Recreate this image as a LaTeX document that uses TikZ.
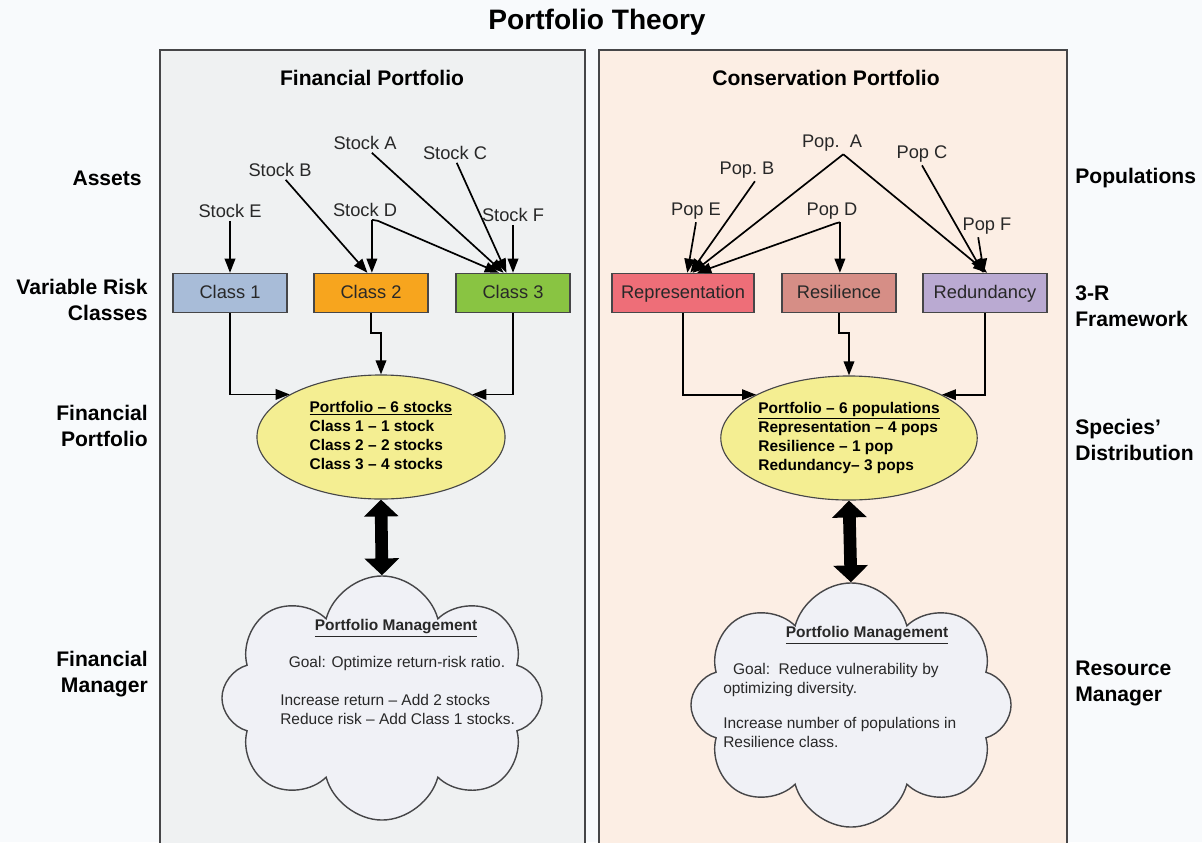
\documentclass[tikz,border=0pt]{standalone}
\usepackage{fontspec}
\setmainfont{Liberation Sans}
\usepackage{xcolor}
\usepackage{tikz}
\usetikzlibrary{arrows.meta}
\usetikzlibrary{shapes,positioning,calc}

\definecolor{pagebg}{RGB}{248,250,252}
\definecolor{finbg}{RGB}{239,241,242}
\definecolor{consbg}{RGB}{252,238,228}
\definecolor{panelline}{RGB}{70,70,72}
\definecolor{classA}{RGB}{168,188,216}
\definecolor{classB}{RGB}{247,165,30}
\definecolor{classC}{RGB}{137,196,66}
\definecolor{repcol}{RGB}{238,110,120}
\definecolor{rescol}{RGB}{214,142,134}
\definecolor{redcol}{RGB}{186,170,210}
\definecolor{pfyellow}{RGB}{244,238,146}
\definecolor{cloudfill}{RGB}{240,241,246}
\definecolor{txtgray}{RGB}{40,40,40}

\begin{document}
\begin{tikzpicture}[x=0.025cm, y=-0.025cm,
		arr/.style={line width=1.2pt, -{Triangle[length=10pt,width=7.5pt]}},
		bigarr/.style={line width=9pt, {Triangle[length=12pt,width=24pt]}-{Triangle[length=12pt,width=24pt]}},
		asset/.style={font=\fontsize{13}{15}\selectfont, text=txtgray, inner sep=2pt},
		riskbox/.style={draw=panelline, line width=1pt, minimum width=2.85cm, minimum height=0.975cm, text height=9.5pt, text depth=1pt, font=\fontsize{13}{15}\selectfont, text=txtgray},
		pfolio/.style={ellipse, draw=panelline, line width=0.8pt, fill=pfyellow, minimum width=6.2cm, minimum height=3.1cm, inner sep=0pt, font=\bfseries\fontsize{11}{13.5}\selectfont},
		mgmt/.style={cloud, cloud puffs=8, aspect=1.3, draw=panelline, line width=1pt, fill=cloudfill, minimum width=8cm, minimum height=6.1cm},
		cloudtxt/.style={font=\fontsize{11}{13.5}\selectfont, text=txtgray, inner sep=0pt},
		cloudhead/.style={font=\bfseries\fontsize{11}{13.5}\selectfont, text=txtgray, inner sep=0pt},
		sidelbl/.style={font=\bfseries\fontsize{15}{18.5}\selectfont, inner sep=0pt},
		head/.style={font=\bfseries\fontsize{15}{18}\selectfont}]
		
		\clip (0,0) rectangle (1202,842);
		\fill[pagebg] (0,0) rectangle (1202,842);
		\draw[panelline, line width=1.3pt, fill=finbg] (160,50) rectangle (585,860);
		\draw[panelline, line width=1.3pt, fill=consbg] (599,50) rectangle (1067,860);
		
		\node[font=\bfseries\fontsize{20}{23}\selectfont] (title) at (597,22) {Portfolio Theory};
		\node[head] (finhead) at (372,78) {Financial Portfolio};
		\node[head] (conshead) at (826,78) {Conservation Portfolio};
		
		\node[sidelbl, anchor=east] (lAssets) at (142,178) {Assets};
		\node[sidelbl, anchor=east, align=right] (lRisk) at (148,300) {Variable Risk\\Classes};
		\node[sidelbl, anchor=east, align=right] (lFin) at (148,426) {Financial\\Portfolio};
		\node[sidelbl, anchor=east, align=right] (lMgr) at (148,674) {Financial\\Manager};
		\node[sidelbl, anchor=west] (rPop) at (1075,178) {Populations};
		\node[sidelbl, anchor=west, align=left] (rFrame) at (1075,306) {3-R\\Framework};
		\node[sidelbl, anchor=west, align=left] (rDist) at (1075,440) {Species'\\Distribution};
		\node[sidelbl, anchor=west, align=left] (rMgr) at (1075,683) {Resource\\Manager};
		
		\node[asset] (sA) at (365,143) {Stock A};
		\node[asset] (sB) at (280,170) {Stock B};
		\node[asset] (sC) at (455,153) {Stock C};
		\node[asset] (sD) at (365,210) {Stock D};
		\node[asset] (sE) at (230,211) {Stock E};
		\node[asset] (sF) at (513,215) {Stock F};
		
		\node[riskbox, fill=classA] (c1) at (230,293) {Class 1};
		\node[riskbox, fill=classB] (c2) at (371,293) {Class 2};
		\node[riskbox, fill=classC] (c3) at (513,293) {Class 3};
		
		\node[asset] (pA) at (832,143) {Pop.\ \ A};
		\node[asset] (pB) at (747,170) {Pop.\ B};
		\node[asset] (pC) at (922,154) {Pop C};
		\node[asset] (pD) at (832,211) {Pop D};
		\node[asset] (pE) at (696,211) {Pop E};
		\node[asset] (pF) at (987,226) {Pop F};
		
		\node[riskbox, fill=repcol, minimum width=3.55cm] (rep) at (683,293) {Representation};
		\node[riskbox, fill=rescol] (res) at (839,293) {Resilience};
		\node[riskbox, fill=redcol, minimum width=3.1cm] (red) at (985,293) {Redundancy};
		
		\draw[arr] (sE.south) -- (c1.north);
		\draw[arr] (sB.-60) -- (c2.100);
		\draw[arr] (sD.-55) -- (sD.-55 |- c2.north);
		\draw[arr] (sD.-55) -- ++(6,1) -- (c3.125);
		\draw[arr] (sA.-55) -- (c3.115);
		\draw[arr] (sC.-80) -- (c3.108);
		\draw[arr] (sF.south) -- (c3.north);
		
		\draw[arr] (pE.south) -- (rep.78);
		\draw[arr] (pB.-55) -- (rep.70);
		\draw[arr] (pA.-45) -- (rep.65);
		\draw[arr] (pA.-45) -- (red.84);
		\draw[arr] (pD.-55) -- (pD.-55 |- res.north);
		\draw[arr] (pD.-55) -- ++(-4,1) -- (rep.55);
		\draw[arr] (pC.south) -- (red.95);
		\draw[arr] (pF.-128) -- (red.93);
		
		\node[pfolio] (pfL) at (381,437) {\begin{tabular}{@{}l@{}}\multicolumn{1}{@{}c@{}}{\underline{Portfolio -- 6 stocks}}\\Class 1 -- 1 stock\\Class 2 -- 2 stocks\\Class 3 -- 4 stocks\end{tabular}};
		\node[pfolio] (pfR) at (849,438) {\begin{tabular}{@{}l@{}}\underline{Portfolio -- 6 populations}\\Representation -- 4 pops\\Resilience -- 1 pop\\Redundancy-- 3 pops\end{tabular}};
		
		\draw[arr] (c1.south) |- (pfL.155);
		\draw[arr] (c2.south) -- ++(0,20) -| (pfL.north);
		\draw[arr] (c3.south) |- (pfL.25);
		\draw[arr] (rep.south) |- (pfR.155);
		\draw[arr] (res.south) -- ++(0,20) -| (pfR.north);
		\draw[arr] (red.south) |- (pfR.25);
		
		\node[mgmt] (clL) at (382,698) {};
		\node[mgmt] (clR) at (851,705) {};
		
		\node[cloudhead] (clLhead) at (396,628) {\underline{Portfolio Management}};
		\node[cloudtxt] (clLgoal) at (397,663) {Goal: Optimize return-risk ratio.};
		\node[cloudtxt, anchor=west, align=left] (clLact) at (280,709.5) {Increase return -- Add 2 stocks\\Reduce risk -- Add Class 1 stocks.};
		
		\node[cloudhead] (clRhead) at (867,635) {\underline{Portfolio Management}};
		\node[cloudtxt, anchor=west, align=left] (clRgoal) at (723,679.5) {\hspace*{7pt}Goal:\ \ Reduce vulnerability by\\optimizing diversity.};
		\node[cloudtxt, anchor=west, align=left] (clRact) at (723,732) {Increase number of populations in\\Resilience class.};
		
		\draw[bigarr] (pfL.south) -- (clL.north);
		\draw[bigarr] (pfR.south) -- (clR.north);
\end{tikzpicture}
\end{document}
